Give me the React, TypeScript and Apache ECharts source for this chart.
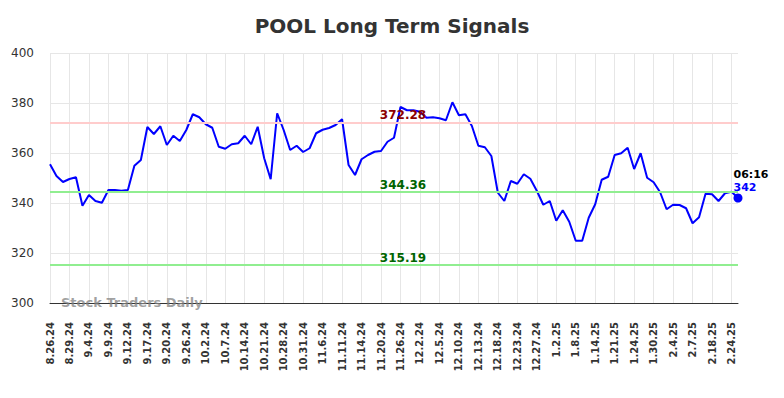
import React, { useEffect, useRef } from "react";
import * as echarts from "echarts";

const dates = [
  "8.26.24", "8.27.24", "8.28.24", "8.29.24", "8.30.24", "9.3.24", "9.4.24", "9.5.24", "9.6.24",
  "9.9.24", "9.10.24", "9.11.24", "9.12.24", "9.13.24", "9.16.24", "9.17.24", "9.18.24", "9.19.24",
  "9.20.24", "9.23.24", "9.24.24", "9.26.24", "9.27.24", "9.30.24", "10.2.24", "10.3.24", "10.4.24",
  "10.7.24", "10.9.24", "10.11.24", "10.14.24", "10.16.24", "10.18.24", "10.21.24", "10.23.24", "10.25.24",
  "10.28.24", "10.29.24", "10.30.24", "10.31.24", "11.1.24", "11.4.24", "11.6.24", "11.7.24", "11.8.24",
  "11.11.24", "11.12.24", "11.13.24", "11.14.24", "11.18.24", "11.19.24", "11.20.24", "11.21.24", "11.22.24",
  "11.26.24", "11.27.24", "11.29.24", "12.2.24", "12.3.24", "12.4.24", "12.5.24", "12.6.24", "12.9.24",
  "12.10.24", "12.11.24", "12.12.24", "12.13.24", "12.16.24", "12.17.24", "12.18.24", "12.19.24", "12.20.24",
  "12.23.24", "12.24.24", "12.26.24", "12.27.24", "12.30.24", "12.31.24", "1.2.25", "1.3.25", "1.6.25",
  "1.8.25", "1.10.25", "1.13.25", "1.14.25", "1.15.25", "1.17.25", "1.21.25", "1.22.25", "1.23.25",
  "1.24.25", "1.27.25", "1.29.25", "1.30.25", "1.31.25", "2.3.25", "2.4.25", "2.5.25", "2.6.25",
  "2.7.25", "2.11.25", "2.14.25", "2.18.25", "2.19.25", "2.21.25", "2.24.25", "2.25.25",
];

const closes = [
  355.5, 350.8, 348.4, 349.6, 350.3, 338.9, 343.2, 340.8, 340.1,
  345.2, 345.2, 344.9, 345.2, 354.9, 357.2, 370.4, 367.6, 370.7,
  363.2, 366.9, 364.8, 369.2, 375.5, 374.3, 371.5, 370.1, 362.5,
  361.7, 363.5, 363.9, 366.9, 363.5, 370.5, 357.9, 349.5, 375.9,
  369.2, 361.2, 362.9, 360.4, 361.9, 367.9, 369.3, 370.0, 371.2,
  373.5, 355.2, 351.2, 357.5, 359.2, 360.5, 360.8, 364.5, 366.1,
  378.4, 377.1, 377.1, 376.5, 374.1, 374.3, 373.9, 373.1, 380.3,
  375.1, 375.5, 370.8, 362.9, 362.3, 358.8, 344.1, 340.8, 348.8,
  347.7, 351.5, 349.7, 344.9, 339.3, 340.8, 332.9, 337.1, 332.5,
  324.9, 324.9, 334.1, 339.5, 349.3, 350.5, 359.2, 359.9, 362.1,
  353.6, 359.9, 350.1, 348.3, 344.3, 337.5, 339.3, 339.2, 337.9,
  331.9, 334.3, 343.7, 343.5, 340.8, 343.9, 344.5, 342,
];

const resistanceLevels = [372.28];
const supportLevels = [344.36, 315.19];
const lastTimeLabel = "06:16";

const FONT = "DejaVu Sans";

export default function App() {
  const ref = useRef<HTMLDivElement>(null);

  useEffect(() => {
    if (!ref.current) return;
    const chart = echarts.init(ref.current, undefined, { renderer: "svg" });
    const lastIdx = closes.length - 1;
    const lastVal = closes[lastIdx];

    const levelLines = [
      ...resistanceLevels.map((v) => ({
        yAxis: v,
        lineStyle: { color: "#ffcccc", width: 2, type: "solid" },
        label: { color: "#8b0000", formatter: v.toFixed(2) },
      })),
      ...supportLevels.map((v) => ({
        yAxis: v,
        lineStyle: { color: "#90ee90", width: 2, type: "solid" },
        label: { color: "#006400", formatter: v.toFixed(2) },
      })),
    ];

    chart.setOption({
      animation: false,
      backgroundColor: "#ffffff",
      title: {
        text: "POOL Long Term Signals",
        left: "center",
        top: 11,
        textStyle: { fontFamily: FONT, fontSize: 20, fontWeight: "bold", color: "#333333" },
      },
      grid: { left: 50, right: 46, top: 53, bottom: 95 },
      xAxis: {
        type: "category",
        data: dates,
        boundaryGap: false,
        axisLine: { show: true, lineStyle: { color: "#333333", width: 1 } },
        axisTick: { show: false },
        axisLabel: {
          interval: 2,
          rotate: 90,
          margin: 19,
          fontFamily: FONT,
          fontSize: 10,
          fontWeight: "bold",
          color: "#333333",
        },
        splitLine: { show: true, interval: 2, lineStyle: { color: "#e6e6e6", width: 1 } },
      },
      yAxis: {
        type: "value",
        min: 300,
        max: 400,
        interval: 20,
        axisLine: { show: false },
        axisTick: { show: false },
        axisLabel: { fontFamily: FONT, fontSize: 12, color: "#333333", margin: 16 },
        splitLine: { show: true, lineStyle: { color: "#e6e6e6", width: 1 } },
      },
      graphic: [
        {
          type: "text",
          left: 61,
          top: 296,
          z: 10,
          style: {
            text: "Stock Traders Daily",
            fontFamily: FONT,
            fontSize: 13,
            fontWeight: "bold",
            fill: "rgba(130,130,130,0.75)",
          },
        },
      ],
      series: [
        {
          type: "line",
          data: closes,
          showSymbol: false,
          symbol: "none",
          lineStyle: { color: "#0000ff", width: 2 },
          itemStyle: { color: "#0000ff" },
          markLine: {
            silent: true,
            symbol: "none",
            label: {
              show: true,
              position: "insideMiddleTop",
              distance: 1,
              offset: [9, 0],
              fontFamily: FONT,
              fontSize: 12,
              fontWeight: "bold",
            },
            data: levelLines,
          },
          markPoint: {
            silent: true,
            data: [
              {
                coord: [dates[lastIdx], lastVal],
                symbol: "circle",
                symbolSize: 9,
                itemStyle: { color: "#0000ff" },
                label: {
                  show: true,
                  position: [0, -26],
                  align: "left",
                  verticalAlign: "top",
                  formatter: `{t|${lastTimeLabel}}\n{v|${lastVal}}`,
                  rich: {
                    t: { fontFamily: FONT, fontSize: 11, fontWeight: "bold", color: "#000000", lineHeight: 13 },
                    v: { fontFamily: FONT, fontSize: 11, fontWeight: "bold", color: "#0000ff", lineHeight: 13 },
                  },
                },
              },
            ],
          },
        },
      ],
    });

    return () => chart.dispose();
  }, []);

  return (
    <div
      ref={ref}
      style={{ position: "fixed", left: 0, top: 0, width: 784, height: 398, background: "#fff" }}
    />
  );
}
